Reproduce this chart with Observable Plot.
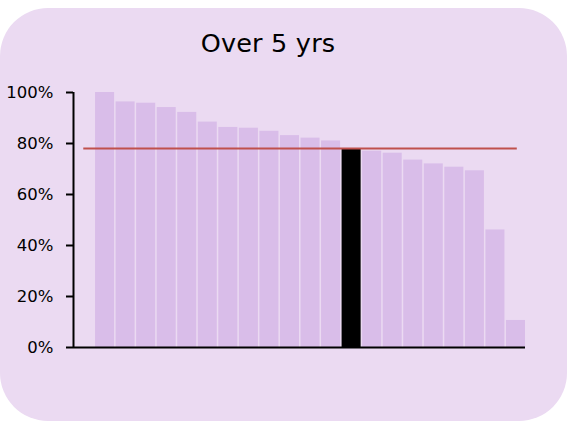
<!DOCTYPE html>
<html><head><meta charset="utf-8">
<script src="https://cdn.jsdelivr.net/npm/d3@7"></script>
<script src="https://cdn.jsdelivr.net/npm/@observablehq/plot@0.6"></script>
<style>
body{margin:0;background:#fff;}
#wrap{position:relative;width:568px;height:421px;overflow:hidden;font-family:"DejaVu Sans",Verdana,sans-serif;}
#panel{position:absolute;left:0;top:8px;width:567px;height:413px;border-radius:48px;background:#ebdaf2;}
#title{position:absolute;left:0;width:536px;top:31px;line-height:25px;text-align:center;font-size:25.5px;letter-spacing:0.2px;color:#000;}
#chart{position:absolute;left:0;top:0;}
</style>
</head><body>
<div id="wrap"><div id="panel"></div><div id="title">Over 5 yrs</div><div id="chart"></div></div>
<script>
const titleText = "Over 5 yrs";
const categories = ["1","2","3","4","5","6","7","8","9","10","11","12","13","14","15","16","17","18","19","20","21"];
const values = [1.000, 0.963, 0.958, 0.941, 0.922, 0.884, 0.863, 0.860, 0.848, 0.831, 0.821, 0.810, 0.780, 0.770, 0.762, 0.735, 0.720, 0.707, 0.693, 0.461, 0.106];
const highlighted = ["13"];
const benchmark = [0.78];
const yTicks = [0, 0.2, 0.4, 0.6, 0.8, 1.0];
const yTickLabels = ["0%","20%","40%","60%","80%","100%"];

const data = categories.map((c, i) => ({cat: c, pos: i + 1, v: values[i], hl: highlighted.includes(c)}));

const chart = Plot.plot({
  width: 568, height: 421,
  marginLeft: 73, marginRight: 43, marginTop: 92, marginBottom: 74,
  style: {background: "transparent", fontFamily: "'DejaVu Sans', Verdana, sans-serif", fontSize: "16px", color: "#000", overflow: "visible"},
  x: {domain: [0, categories.length + 1], axis: null},
  y: {domain: [0, 1], axis: null},
  marks: [
    Plot.rectY(data, {x1: "pos", x2: d => d.pos + 1, y: "v", fill: d => d.hl ? "#000" : "#d9bde9", insetLeft: 1.5, insetRight: 0}),
    Plot.ruleY(benchmark, {x1: 0.5, x2: 21.6, stroke: "#c0504d", strokeWidth: 2}),
    Plot.axisY({ticks: yTicks, tickFormat: (d) => yTickLabels[yTicks.indexOf(d)], tickSize: 7, tickPadding: 13, fontSize: 16.5, strokeWidth: 2, label: null}),
    Plot.ruleX([0], {y1: 0, y2: 1, stroke: "#000", strokeWidth: 2}),
    Plot.ruleY([0], {x1: 0, x2: categories.length + 1, stroke: "#000", strokeWidth: 2})
  ]
});
document.getElementById("chart").appendChild(chart);
document.getElementById("title").textContent = titleText;
</script>
</body></html>
